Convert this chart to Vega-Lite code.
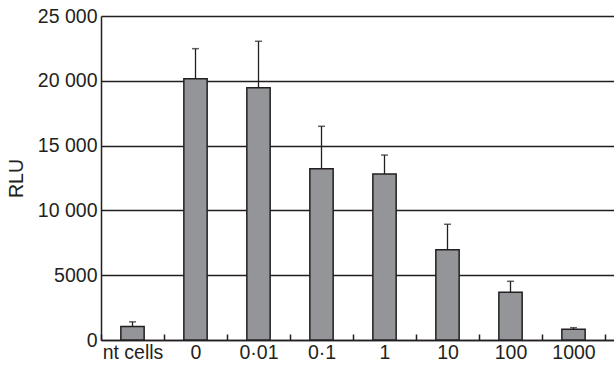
{
  "$schema": "https://vega.github.io/schema/vega-lite/v6.json",
  "width": 513,
  "height": 324,
  "autosize": {"type": "none"},
  "padding": {"left": 101, "top": 16, "right": 0, "bottom": 31},
  "background": "white",
  "config": {"view": {"stroke": null}, "font": "Liberation Sans"},
  "data": {
    "values": [
      {"group": "nt cells", "rlu": 1050, "upper": 1400},
      {"group": "0", "rlu": 20160, "upper": 22480},
      {"group": "0·01", "rlu": 19470, "upper": 23050},
      {"group": "0·1", "rlu": 13220, "upper": 16490},
      {"group": "1", "rlu": 12810, "upper": 14270},
      {"group": "10", "rlu": 6970, "upper": 8930},
      {"group": "100", "rlu": 3680, "upper": 4530},
      {"group": "1000", "rlu": 830, "upper": 950}
    ]
  },
  "encoding": {
    "x": {
      "field": "group",
      "type": "nominal",
      "sort": null,
      "scale": {"paddingInner": 0, "paddingOuter": 0.0714, "align": 0},
      "axis": {
        "title": null,
        "labelAngle": 0,
        "tickBand": "extent",
        "grid": false,
        "domainColor": "#231f20",
        "domainWidth": 1.5,
        "tickColor": "#231f20",
        "tickWidth": 1.5,
        "tickSize": -6,
        "labelFontSize": 19.5,
        "labelColor": "#231f20",
        "labelPadding": 9
      }
    }
  },
  "layer": [
    {
      "mark": {"type": "bar", "width": {"band": 0.37}, "fill": "#939598", "stroke": "#231f20", "strokeWidth": 1.5},
      "encoding": {
        "y": {
          "field": "rlu",
          "type": "quantitative",
          "scale": {"domain": [0, 25000], "nice": false},
          "axis": {
            "title": "RLU",
            "values": [0, 5000, 10000, 15000, 20000, 25000],
            "labelExpr": "datum.value >= 10000 ? replace(format(datum.value, ','), ',', ' ') : format(datum.value, 'd')",
            "grid": true,
            "gridColor": "#231f20",
            "gridWidth": 1.3,
            "gridOpacity": 1,
            "ticks": false,
            "domainColor": "#231f20",
            "domainWidth": 1.5,
            "labelFontSize": 19.5,
            "labelColor": "#231f20",
            "labelPadding": 4,
            "titleFontSize": 19.5,
            "titleFontWeight": "normal",
            "titleColor": "#231f20",
            "titleX": -79,
            "titleY": 162,
            "titleAngle": -90,
            "titleAlign": "center",
            "titleBaseline": "alphabetic"
          }
        }
      }
    },
    {
      "mark": {"type": "rule", "color": "#231f20", "strokeWidth": 1.3},
      "encoding": {
        "y": {"field": "rlu", "type": "quantitative"},
        "y2": {"field": "upper"}
      }
    },
    {
      "mark": {"type": "tick", "color": "#231f20", "thickness": 1.5, "size": 7, "orient": "horizontal"},
      "encoding": {
        "y": {"field": "upper", "type": "quantitative"}
      }
    }
  ]
}
